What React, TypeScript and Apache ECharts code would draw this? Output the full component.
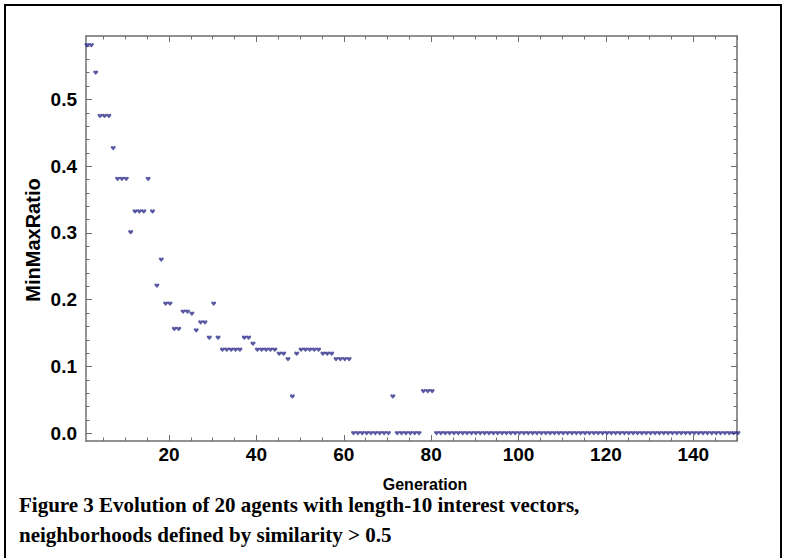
import React, { useEffect, useRef } from "react";
import * as echarts from "echarts";

// MinMaxRatio per generation (generation = index + 1)
const minMaxRatio: number[] = [
  0.581, 0.581, 0.540, 0.475, 0.475, 0.475, 0.427, 0.381, 0.381, 0.381,
  0.301, 0.332, 0.332, 0.332, 0.381, 0.332, 0.221, 0.260, 0.194, 0.194,
  0.156, 0.156, 0.182, 0.182, 0.179, 0.154, 0.166, 0.166, 0.143, 0.194,
  0.143, 0.125, 0.125, 0.125, 0.125, 0.125, 0.143, 0.143, 0.134, 0.125,
  0.125, 0.125, 0.125, 0.125, 0.119, 0.119, 0.111, 0.055, 0.119, 0.125,
  0.125, 0.125, 0.125, 0.125, 0.119, 0.119, 0.119, 0.111, 0.111, 0.111,
  0.111, 0, 0, 0, 0, 0, 0, 0, 0, 0,
  0.055, 0, 0, 0, 0, 0, 0, 0.063, 0.063, 0.063,
  0, 0, 0, 0, 0, 0, 0, 0, 0, 0,
  0, 0, 0, 0, 0, 0, 0, 0, 0, 0,
  0, 0, 0, 0, 0, 0, 0, 0, 0, 0,
  0, 0, 0, 0, 0, 0, 0, 0, 0, 0,
  0, 0, 0, 0, 0, 0, 0, 0, 0, 0,
  0, 0, 0, 0, 0, 0, 0, 0, 0, 0,
  0, 0, 0, 0, 0, 0, 0, 0, 0, 0,
];

const xMajorTicks: number[] = [20, 40, 60, 80, 100, 120, 140];
const xMinorTicks: number[] = [
  5, 10, 15, 25, 30, 35, 45, 50, 55, 65, 70, 75, 85, 90, 95, 105, 110, 115,
  125, 130, 135, 145, 150,
];
const yMajorTicks: number[] = [0, 0.1, 0.2, 0.3, 0.4, 0.5];
const yMinorTicks: number[] = [
  0.02, 0.04, 0.06, 0.08, 0.12, 0.14, 0.16, 0.18, 0.22, 0.24, 0.26, 0.28,
  0.32, 0.34, 0.36, 0.38, 0.42, 0.44, 0.46, 0.48, 0.52, 0.54, 0.56, 0.58,
];

const xTitle = "Generation";
const yTitle = "MinMaxRatio";
const captionLine1 = "Figure 3 Evolution of 20 agents with length-10 interest vectors,";
const captionLine2 = "neighborhoods defined by similarity > 0.5";

const X_MIN = 1;
const X_MAX = 150;
const Y_MIN = -0.0116;
const Y_MAX = 0.595;

const FRAME = "#6e6e6e";
const POINT = "#2E2E8C";
const SANS = "Liberation Sans, Arial, sans-serif";
const SERIF = "Liberation Serif, Times New Roman, serif";

const HEART =
  "path://M5,9L0.6,4.2C-0.8,2.6 0.2,0 2.5,0C3.7,0 4.5,0.8 5,1.6C5.5,0.8 6.3,0 7.5,0C9.8,0 10.8,2.6 9.4,4.2Z";

function xAxisDef(position: "bottom" | "top", major: boolean) {
  return {
    type: "value",
    position,
    min: X_MIN,
    max: X_MAX,
    axisLine: { show: major, onZero: false, lineStyle: { color: FRAME, width: 1.5 } },
    axisTick: {
      show: true,
      inside: true,
      length: major ? 6 : 3.5,
      customValues: major ? xMajorTicks : xMinorTicks,
      lineStyle: { color: FRAME, width: 1 },
    },
    axisLabel: {
      show: major && position === "bottom",
      customValues: xMajorTicks,
      margin: 4,
      color: "#000",
      fontSize: 19,
      fontWeight: "bold",
      fontFamily: SANS,
    },
    splitLine: { show: false },
  };
}

function yAxisDef(position: "left" | "right", major: boolean) {
  return {
    type: "value",
    position,
    min: Y_MIN,
    max: Y_MAX,
    axisLine: { show: major, onZero: false, lineStyle: { color: FRAME, width: 1.5 } },
    axisTick: {
      show: true,
      inside: true,
      length: major ? 6 : 3.5,
      customValues: major ? yMajorTicks : yMinorTicks,
      lineStyle: { color: FRAME, width: 1 },
    },
    axisLabel: {
      show: major && position === "left",
      customValues: yMajorTicks,
      formatter: (v: number) => v.toFixed(1),
      margin: 9,
      color: "#000",
      fontSize: 19,
      fontWeight: "bold",
      fontFamily: SANS,
    },
    splitLine: { show: false },
  };
}

export default function App() {
  const ref = useRef<HTMLDivElement>(null);

  useEffect(() => {
    if (!ref.current) return;
    const chart = echarts.init(ref.current, null, { renderer: "svg" });
    const data = minMaxRatio.map((v, i) => [i + 1, v]);
    chart.setOption({
      animation: false,
      backgroundColor: "#fff",
      grid: { left: 86, right: 48, top: 36, bottom: 117, containLabel: false },
      xAxis: [
        xAxisDef("bottom", true),
        xAxisDef("bottom", false),
        xAxisDef("top", true),
        xAxisDef("top", false),
      ],
      yAxis: [
        yAxisDef("left", true),
        yAxisDef("left", false),
        yAxisDef("right", true),
        yAxisDef("right", false),
      ],
      series: [
        {
          type: "scatter",
          xAxisIndex: 0,
          yAxisIndex: 0,
          data,
          symbol: HEART,
          symbolSize: [5, 4.5],
          symbolOffset: [1, 0],
          itemStyle: { color: POINT },
        },
      ],
      graphic: [
        {
          type: "rect",
          shape: { x: 5, y: 5, width: 776, height: 600 },
          style: { fill: "none", stroke: "#000", lineWidth: 2 },
          silent: true,
        },
        {
          type: "text",
          x: 425,
          y: 484,
          style: {
            text: xTitle,
            fill: "#000",
            font: `bold 16px ${SANS}`,
            textAlign: "center",
            textVerticalAlign: "middle",
          },
        },
        {
          type: "text",
          x: 33,
          y: 240,
          rotation: Math.PI / 2,
          style: {
            text: yTitle,
            fill: "#000",
            font: `bold 20px ${SANS}`,
            textAlign: "center",
            textVerticalAlign: "middle",
          },
        },
        {
          type: "text",
          x: 19,
          y: 505,
          style: {
            text: captionLine1,
            fill: "#000",
            font: `bold 21px ${SERIF}`,
            textAlign: "left",
            textVerticalAlign: "middle",
          },
        },
        {
          type: "text",
          x: 19,
          y: 535,
          style: {
            text: captionLine2,
            fill: "#000",
            font: `bold 21px ${SERIF}`,
            textAlign: "left",
            textVerticalAlign: "middle",
          },
        },
      ],
    });
    return () => chart.dispose();
  }, []);

  return (
    <div
      ref={ref}
      style={{ position: "absolute", left: 0, top: 0, width: 785, height: 558, background: "#fff" }}
    />
  );
}
